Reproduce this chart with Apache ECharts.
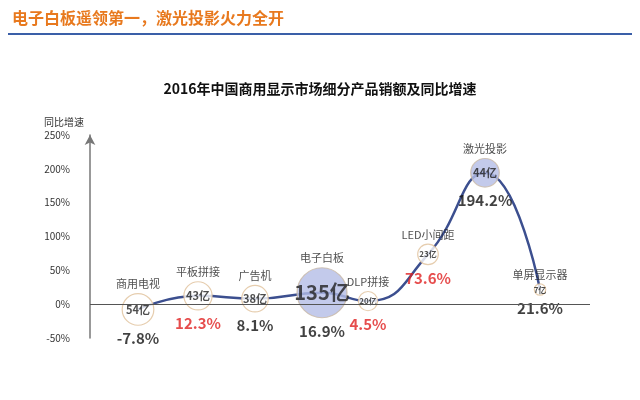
<!DOCTYPE html>
<html><head><meta charset="utf-8">
<script src="https://cdn.jsdelivr.net/npm/echarts@6/dist/echarts.min.js"></script>
<style>html,body{margin:0;padding:0;background:#fff}#c{width:640px;height:400px}</style>
</head><body><div id="c"></div>
<script>
const categories=['商用电视','平板拼接','广告机','电子白板','DLP拼接','LED小间距','激光投影','单屏显示器'];
const xPos=[48,108,165,232,278,338,395,450];
const growth=[-7.8,12.3,8.1,16.9,4.5,73.6,194.2,21.6];
const sales=[54,43,38,135,20,23,44,7];
const growthLabels=['-7.8%','12.3%','8.1%','16.9%','4.5%','73.6%','194.2%','21.6%'];
const redIdx=[1,4,5];
const blueIdx=[3,6];
const FONT='"Noto Sans CJK SC","Microsoft YaHei",sans-serif';
const chart=echarts.init(document.getElementById('c'));
const size=i=>50*Math.sqrt(sales[i]/135);
const pts=categories.map((c,i)=>({
  value:[xPos[i],growth[i]],
  symbolSize:size(i),
  itemStyle:{color:(blueIdx.includes(i)?'#b4bde6':'#fff'),borderColor:(blueIdx.includes(i)?'#c9b9a6':'#e0c09a'),borderWidth:1.2},
  label:{show:true,position:'inside',formatter:sales[i]+'亿',
    fontSize:sales[i]>=100?20:(sales[i]>=30?11:8),fontWeight:'bold',color:'#222',fontFamily:FONT}
}));
const topLbl=categories.map((c,i)=>({value:[xPos[i],growth[i]],symbolSize:size(i)}));
const botLbl=categories.map((c,i)=>({value:[xPos[i],growth[i]],symbolSize:size(i),
  label:{color:redIdx.includes(i)?'#e02020':'#111'}}));
chart.setOption({
  animation:false,
  graphic:[
    {type:'text',left:12,top:10,style:{text:'电子白板遥领第一，激光投影火力全开',fill:'#e8791e',font:'bold 16px '+FONT}},
    {type:'rect',shape:{x:8,y:33,width:624,height:2},style:{fill:'#3a5fa8'}},
    {type:'text',left:'center',top:82,style:{text:'2016年中国商用显示市场细分产品销额及同比增速',fill:'#111',font:'bold 14px '+FONT}},
    {type:'text',left:44,top:117,style:{text:'同比增速',fill:'#333',font:'10px '+FONT}}
  ],
  grid:{left:90,right:50,top:135,bottom:62},
  xAxis:{type:'value',min:0,max:500,show:false},
  yAxis:{type:'value',min:-50,max:250,interval:50,
    axisLine:{show:true,lineStyle:{color:'#777',width:1.5},symbol:['none','arrow'],symbolSize:[8,10]},
    axisTick:{show:false},splitLine:{show:false},
    axisLabel:{formatter:'{value}%',color:'#333',fontSize:10,fontFamily:FONT,margin:20}},
  series:[
    {type:'line',smooth:0.5,data:xPos.map((x,i)=>[x,growth[i]]),symbol:'none',
     lineStyle:{color:'#3c4f8f',width:2.5},z:2,
     markLine:{silent:true,symbol:'none',label:{show:false},lineStyle:{color:'#555',width:1.2,type:'solid'},data:[{yAxis:0}]}},
    {type:'scatter',data:pts,z:3},
    {type:'scatter',data:topLbl,itemStyle:{color:'transparent'},z:4,
     label:{show:true,position:'top',distance:4,formatter:p=>categories[p.dataIndex],fontSize:11,color:'#222',fontFamily:FONT}},
    {type:'scatter',data:botLbl,itemStyle:{color:'transparent'},z:4,
     label:{show:true,position:'bottom',distance:6,formatter:p=>growthLabels[p.dataIndex],fontSize:15,fontWeight:'bold',fontFamily:FONT}}
  ]
});
</script></body></html>
